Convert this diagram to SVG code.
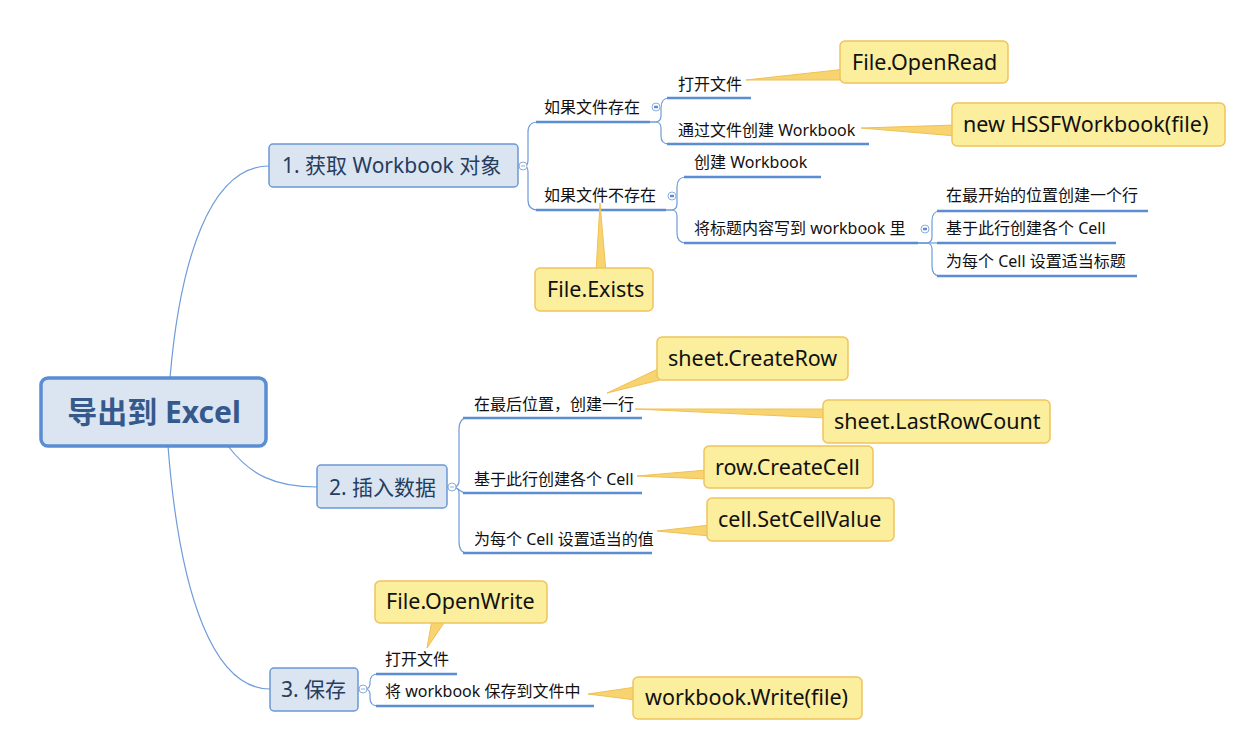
<svg xmlns="http://www.w3.org/2000/svg" width="1254" height="752" viewBox="0 0 1254 752">
<style>
text{font-family:"Noto Sans","Noto Sans CJK SC",sans-serif;}
.root rect{fill:#dbe5f2;stroke:#5a8dd1;stroke-width:3.5;}
.root text{fill:#36598c;font-size:30px;font-weight:bold;text-anchor:middle;}
.topic rect{fill:#dbe5f2;stroke:#6a98d6;stroke-width:1.5;}
.topic text{fill:#263d5e;font-size:21px;}
.sub text{fill:#111;font-size:16px;}
.sub line{stroke:#5b8dd3;stroke-width:2.5;}
.conn{fill:none;stroke:#6f9cd9;stroke-width:1.2;}
.tog{fill:#fff;stroke:#8eadd8;stroke-width:1;}
.togm{stroke:#8eadd8;stroke-width:1;}
.call rect{fill:#fbee9d;stroke:#f1c35c;stroke-width:1.5;}
.call polygon{fill:#f7d470;stroke:#f0c057;stroke-width:1;stroke-linejoin:round;}
.call text{fill:#111;font-size:21.5px;}
</style>
<rect x="0" y="0" width="1254" height="752" fill="#fff"/>

<g id="connectors">
  <!-- root to topics -->
  <path class="conn" d="M170,378 C180,260 210,166 269,166"/>
  <path class="conn" d="M228,446 C250,475 275,487 317,487"/>
  <path class="conn" d="M168,446 C180,600 215,689 270,689"/>
  <!-- topic 1 fork -->
  <path class="conn" d="M518,166 H524 Q528,166 528,160 L528,132 Q528,122 538,122"/>
  <path class="conn" d="M518,166 H524 Q528,166 528,172 L528,200 Q528,210 538,210"/>
  <!-- 如果文件存在 fork -->
  <path class="conn" d="M650,122 H655 Q661,122 661,116 L661,108 Q661,98 669,98"/>
  <path class="conn" d="M650,122 H655 Q661,122 661,128 L661,136 Q661,144 669,144"/>
  <!-- 如果文件不存在 fork -->
  <path class="conn" d="M666,210 H671 Q677,210 677,204 L677,187 Q677,177 686,177"/>
  <path class="conn" d="M666,210 H671 Q677,210 677,216 L677,233 Q677,243 686,243"/>
  <!-- 将标题 fork -->
  <path class="conn" d="M918,243 H926 Q932,243 932,237 L932,221 Q932,211 940,211"/>
  <path class="conn" d="M918,243 H940"/>
  <path class="conn" d="M918,243 H926 Q932,243 932,249 L932,266 Q932,276 940,276"/>
  <!-- topic 2 fork -->
  <path class="conn" d="M447,487 H453 Q459,487 459,481 L459,430 Q459,418 467,418"/>
  <path class="conn" d="M447,487 H453 C459,487 459,493 467,493"/>
  <path class="conn" d="M447,487 H453 Q459,487 459,493 L459,541 Q459,553 467,553"/>
  <!-- topic 3 fork -->
  <path class="conn" d="M358,689 H364 Q370,689 370,684 L370,682 Q370,674 378,674"/>
  <path class="conn" d="M358,689 H364 Q370,689 370,694 L370,698 Q370,706 378,706"/>
</g>

<g id="root" class="root">
  <rect x="41" y="378" width="225" height="68" rx="7"/>
  <text x="154" y="423">导出到 Excel</text>
</g>

<g id="topic1" class="topic">
  <rect x="269" y="144" width="249" height="43" rx="4"/>
  <text x="282" y="173">1. 获取 Workbook 对象</text>
  <circle class="tog" cx="523" cy="166" r="4"/><line class="togm" x1="521" y1="166" x2="525" y2="166"/>
</g>

<g id="t1-exists" class="sub">
  <text x="544" y="113">如果文件存在</text>
  <line x1="536" y1="122" x2="650" y2="122"/>
  <circle class="tog" cx="656" cy="107" r="4"/><line class="togm" x1="654" y1="107" x2="658" y2="107"/>
</g>
<g id="t1-notexists" class="sub">
  <text x="544" y="201">如果文件不存在</text>
  <line x1="536" y1="210" x2="666" y2="210"/>
  <circle class="tog" cx="672" cy="196" r="4"/><line class="togm" x1="670" y1="196" x2="674" y2="196"/>
</g>
<g id="t1-open" class="sub">
  <text x="678" y="90">打开文件</text>
  <line x1="667" y1="98" x2="751" y2="98"/>
</g>
<g id="t1-create-from-file" class="sub">
  <text x="678" y="136">通过文件创建 Workbook</text>
  <line x1="667" y1="144" x2="869" y2="144"/>
</g>
<g id="t1-create" class="sub">
  <text x="694" y="168">创建 Workbook</text>
  <line x1="684" y1="177" x2="821" y2="177"/>
</g>
<g id="t1-write-title" class="sub">
  <text x="694" y="234">将标题内容写到 workbook 里</text>
  <line x1="684" y1="243" x2="918" y2="243"/>
  <circle class="tog" cx="925" cy="229" r="4"/><line class="togm" x1="923" y1="229" x2="927" y2="229"/>
</g>
<g id="t1-first-row" class="sub">
  <text x="946" y="201">在最开始的位置创建一个行</text>
  <line x1="937" y1="211" x2="1148" y2="211"/>
</g>
<g id="t1-cells" class="sub">
  <text x="946" y="234">基于此行创建各个 Cell</text>
  <line x1="937" y1="243" x2="1116" y2="243"/>
</g>
<g id="t1-titles" class="sub">
  <text x="946" y="267">为每个 Cell 设置适当标题</text>
  <line x1="937" y1="276" x2="1137" y2="276"/>
</g>

<g id="topic2" class="topic">
  <rect x="317" y="465" width="130" height="43" rx="4"/>
  <text x="329" y="495">2. 插入数据</text>
  <circle class="tog" cx="452" cy="487" r="4"/><line class="togm" x1="450" y1="487" x2="454" y2="487"/>
</g>
<g id="t2-row" class="sub">
  <text x="474" y="410">在最后位置，创建一行</text>
  <line x1="463" y1="418" x2="642" y2="418"/>
</g>
<g id="t2-cells" class="sub">
  <text x="474" y="485">基于此行创建各个 Cell</text>
  <line x1="463" y1="493" x2="642" y2="493"/>
</g>
<g id="t2-values" class="sub">
  <text x="474" y="545">为每个 Cell 设置适当的值</text>
  <line x1="463" y1="553" x2="652" y2="553"/>
</g>

<g id="topic3" class="topic">
  <rect x="270" y="668" width="88" height="43" rx="4"/>
  <text x="281" y="697">3. 保存</text>
  <circle class="tog" cx="363" cy="689" r="4"/><line class="togm" x1="361" y1="689" x2="365" y2="689"/>
</g>
<g id="t3-open" class="sub">
  <text x="385" y="665">打开文件</text>
  <line x1="376" y1="674" x2="457" y2="674"/>
</g>
<g id="t3-save" class="sub">
  <text x="385" y="697">将 workbook 保存到文件中</text>
  <line x1="376" y1="706" x2="594" y2="706"/>
</g>

<g id="c-openread" class="call">
  <polygon points="846,69 846,80 746,80"/>
  <rect x="840" y="41" width="168" height="42" rx="5"/>
  <text x="852" y="70">File.OpenRead</text>
</g>
<g id="c-hssf" class="call">
  <polygon points="956,125 956,136 861,128"/>
  <rect x="952" y="103" width="273" height="43" rx="5"/>
  <text x="963" y="132">new HSSFWorkbook(file)</text>
</g>
<g id="c-exists" class="call">
  <polygon points="596,272 606,272 600,203"/>
  <rect x="535" y="268" width="118" height="43" rx="5"/>
  <text x="547" y="297">File.Exists</text>
</g>
<g id="c-createrow" class="call">
  <polygon points="660,368 672,377 607,393"/>
  <rect x="657" y="337" width="191" height="43" rx="5"/>
  <text x="668" y="366">sheet.CreateRow</text>
</g>
<g id="c-lastrow" class="call">
  <polygon points="826,409 826,418 635,409"/>
  <rect x="823" y="400" width="227" height="43" rx="5"/>
  <text x="834" y="429">sheet.LastRowCount</text>
</g>
<g id="c-createcell" class="call">
  <polygon points="707,470 707,479 637,476"/>
  <rect x="704" y="446" width="169" height="42" rx="5"/>
  <text x="715" y="475">row.CreateCell</text>
</g>
<g id="c-setvalue" class="call">
  <polygon points="710,525 710,536 657,531"/>
  <rect x="707" y="498" width="187" height="43" rx="5"/>
  <text x="718" y="527">cell.SetCellValue</text>
</g>
<g id="c-openwrite" class="call">
  <polygon points="432,620 446,620 427,648"/>
  <rect x="375" y="581" width="172" height="42" rx="5"/>
  <text x="386" y="609">File.OpenWrite</text>
</g>
<g id="c-write" class="call">
  <polygon points="636,687 636,700 588,694"/>
  <rect x="633" y="677" width="229" height="42" rx="5"/>
  <text x="645" y="705">workbook.Write(file)</text>
</g>
</svg>
